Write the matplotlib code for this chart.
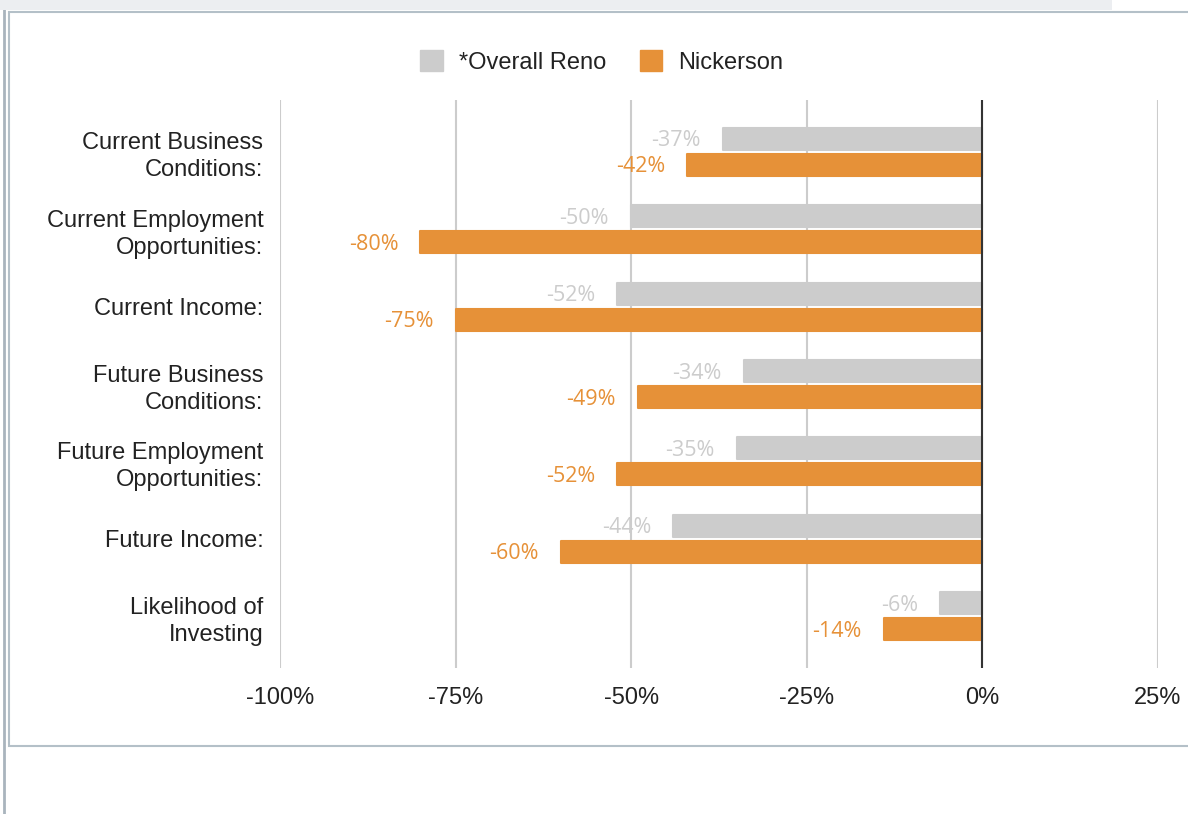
import numpy as np
import matplotlib.pyplot as plt
from matplotlib.patches import Rectangle
from matplotlib.lines import Line2D

categories = [
    "Current Business\nConditions:",
    "Current Employment\nOpportunities:",
    "Current Income:",
    "Future Business\nConditions:",
    "Future Employment\nOpportunities:",
    "Future Income:",
    "Likelihood of\nInvesting",
]
overall_reno = [-37, -50, -52, -34, -35, -44, -6]
nickerson = [-42, -80, -75, -49, -52, -60, -14]
x_ticks = [-100, -75, -50, -25, 0, 25]

GRAY = "#cccccc"
ORANGE = "#e69138"
FRAME = "#b4c0c8"

plt.rcParams['font.family'] = ['Liberation Sans', 'DejaVu Sans']

fig = plt.figure(figsize=(11.88, 8.14), dpi=100)
W, H = 1188, 814

# page chrome around the chart (kept under the axes)
fig.patches.append(Rectangle((0, 1 - 10 / H), 1112 / W, 10 / H, transform=fig.transFigure,
                             facecolor="#eceef1", edgecolor="none", zorder=-2))
fig.add_artist(Line2D([3.5 / W, 3.5 / W], [0, 1 - 10 / H], transform=fig.transFigure,
                      color="#a9b4bd", lw=2, zorder=-2))
fig.patches.append(Rectangle((8.5 / W, 1 - 746 / H), 1.2, (746 - 11.5) / H,
                             transform=fig.transFigure, facecolor="white",
                             edgecolor=FRAME, lw=1.5, zorder=-2))

ax = fig.add_axes([280 / W, 1 - 668 / H, 878 / W, 568 / H])
y = np.arange(len(categories))
off = 13 / 77.5
h = 22 / 77.5

bars_r = ax.barh(y - off, overall_reno, height=h, color=GRAY, zorder=3)
bars_n = ax.barh(y + off, nickerson, height=h, color=ORANGE, zorder=3)
for b in list(bars_r) + list(bars_n):
    b.set_edgecolor(b.get_facecolor())
    b.set_linewidth(1.5)
    b.set_joinstyle('round')

for bars, vals, col in [(bars_r, overall_reno, GRAY), (bars_n, nickerson, ORANGE)]:
    for b, v in zip(bars, vals):
        ax.annotate(f"{v}%", (v, b.get_y() + b.get_height() / 2),
                    xytext=(-16, -1.5), textcoords="offset points",
                    ha="right", va="center", color=col, fontsize=15.5,
                    family=['Open Sans', 'DejaVu Sans'], zorder=4)

ax.set_xlim(-100, 25)
ax.set_ylim(len(categories) - 1 + 0.67, -0.67)
ax.set_xticks(x_ticks)
ax.set_xticklabels([f"{t}%" for t in x_ticks])
ax.set_yticks(y)
ax.set_yticklabels(categories, linespacing=1.3)
ax.tick_params(axis='y', length=0, pad=12, labelsize=17, labelcolor="#222222")
ax.tick_params(axis='x', length=0, pad=14, labelsize=17, labelcolor="#222222")
for s in ax.spines.values():
    s.set_visible(False)
ax.grid(axis='x', color=GRAY, lw=1.5, zorder=0)
ax.set_axisbelow(True)
ax.axvline(0, color="#333333", lw=1.5, zorder=5)
ax.set_facecolor("none")

handles = [Rectangle((0, 0), 1, 1, color=GRAY), Rectangle((0, 0), 1, 1, color=ORANGE)]
fig.legend(handles, ["*Overall Reno", "Nickerson"], loc="center",
           bbox_to_anchor=(602 / W, 1 - 62 / H), ncol=2, frameon=False,
           fontsize=17, handlelength=0.95, handleheight=0.95,
           handletextpad=0.7, columnspacing=1.4, labelcolor="#222222")

fig.savefig("out.png", dpi=100)
